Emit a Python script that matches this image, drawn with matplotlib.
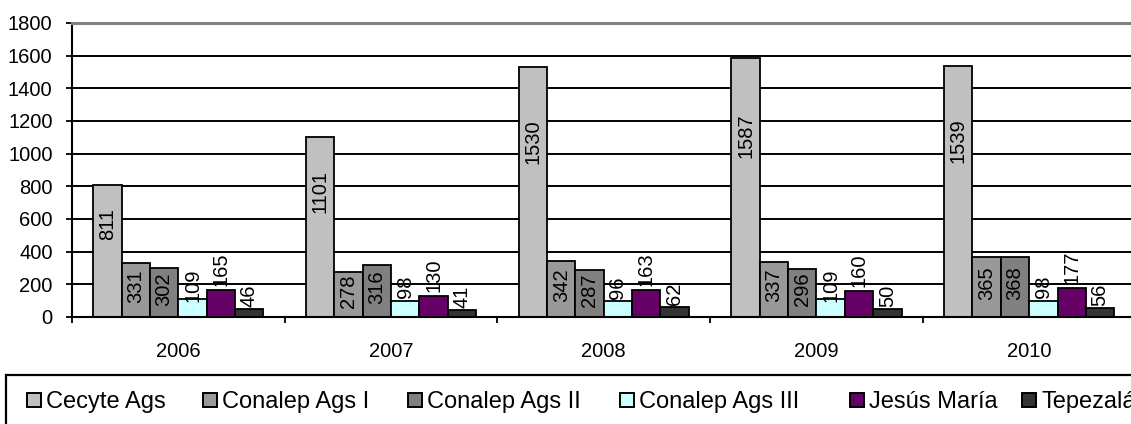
import numpy as np
import matplotlib.pyplot as plt
from matplotlib.patches import Rectangle

plt.rcParams['font.family'] = ['Liberation Sans', 'DejaVu Sans']

# datos
years = ['2006', '2007', '2008', '2009', '2010']
series_names = ['Cecyte Ags', 'Conalep Ags I', 'Conalep Ags II',
                'Conalep Ags III', 'Jesús María', 'Tepezalá']
cecyte = [811, 1101, 1530, 1587, 1539]
conalep_1 = [331, 278, 342, 337, 365]
conalep_2 = [302, 316, 287, 296, 368]
conalep_3 = [109, 98, 96, 109, 98]
jesus_maria = [165, 130, 163, 160, 177]
tepezala = [46, 41, 62, 50, 56]
y_ticks = [0, 200, 400, 600, 800, 1000, 1200, 1400, 1600, 1800]

all_series = [cecyte, conalep_1, conalep_2, conalep_3, jesus_maria, tepezala]
colors = ['#C0C0C0', '#999999', '#808080', '#CCFFFF', '#660066', '#333333']
# como se colocan las etiquetas: ('in', factor) o ('up', desplazamiento)
label_mode = [('in', 0.70), ('in', 0.57), ('in', 0.57),
              ('up', 85), ('up', 128), ('up', 82)]

W, H = 1131, 424
fig = plt.figure(figsize=(W / 100, H / 100), dpi=100)
ax = fig.add_axes([72 / W, 107 / H, 1063.5 / W, 294 / H])

n = len(all_series)
bar_w = 1 / (n + 1.5)
x0 = np.arange(len(years)) + 0.75 * bar_w

for j, vals in enumerate(all_series):
    xs = x0 + j * bar_w
    ax.bar(xs, vals, width=bar_w, align='edge', color=colors[j],
           edgecolor='black', linewidth=1.3, zorder=2)
    mode, k = label_mode[j]
    for x, v in zip(xs, vals):
        yc = v * k if mode == 'in' else v + k
        ax.text(x + bar_w / 2, yc, str(v), rotation=90, ha='center',
                va='center', fontsize=14.5, color='black', zorder=3)

ax.set_xlim(0, len(years))
ax.set_ylim(y_ticks[0], y_ticks[-1])
ax.set_yticks(y_ticks)
ax.set_xticks(np.arange(len(years) + 1))
ax.set_xticklabels([])
ax.set_xticks(np.arange(len(years)) + 0.5, minor=True)
ax.set_xticklabels(years, minor=True)

ax.set_axisbelow(True)
ax.yaxis.grid(True, color='black', linewidth=1.4)
ax.tick_params(axis='y', direction='out', length=4, width=1.3,
               labelsize=14.5, pad=10)
ax.tick_params(axis='x', which='major', direction='out', length=4, width=1.3)
ax.tick_params(axis='x', which='minor', length=0, labelsize=14.5, pad=18)

ax.spines['right'].set_visible(False)
ax.spines['top'].set_color('#808080')
ax.spines['top'].set_linewidth(2.2)
ax.spines['left'].set_linewidth(1.5)
ax.spines['bottom'].set_linewidth(1.5)

# leyenda (cortada por el borde como en el original)
fig.add_artist(Rectangle((6 / W, -0.3), 2, 0.3 + 1 - 375 / H,
                         transform=fig.transFigure, fill=False,
                         edgecolor='black', linewidth=1.6, clip_on=False))
marker_x = [27, 203, 408, 620, 850, 1022]
for name, c, mx in zip(series_names, colors, marker_x):
    fig.add_artist(Rectangle((mx / W, 1 - 407 / H), 14 / W, 14 / H,
                             transform=fig.transFigure, facecolor=c,
                             edgecolor='black', linewidth=1.4))
    fig.text((mx + 19) / W, 1 - 408 / H, name, fontsize=17,
             va='baseline', ha='left')

fig.savefig('out.png', dpi=100)
